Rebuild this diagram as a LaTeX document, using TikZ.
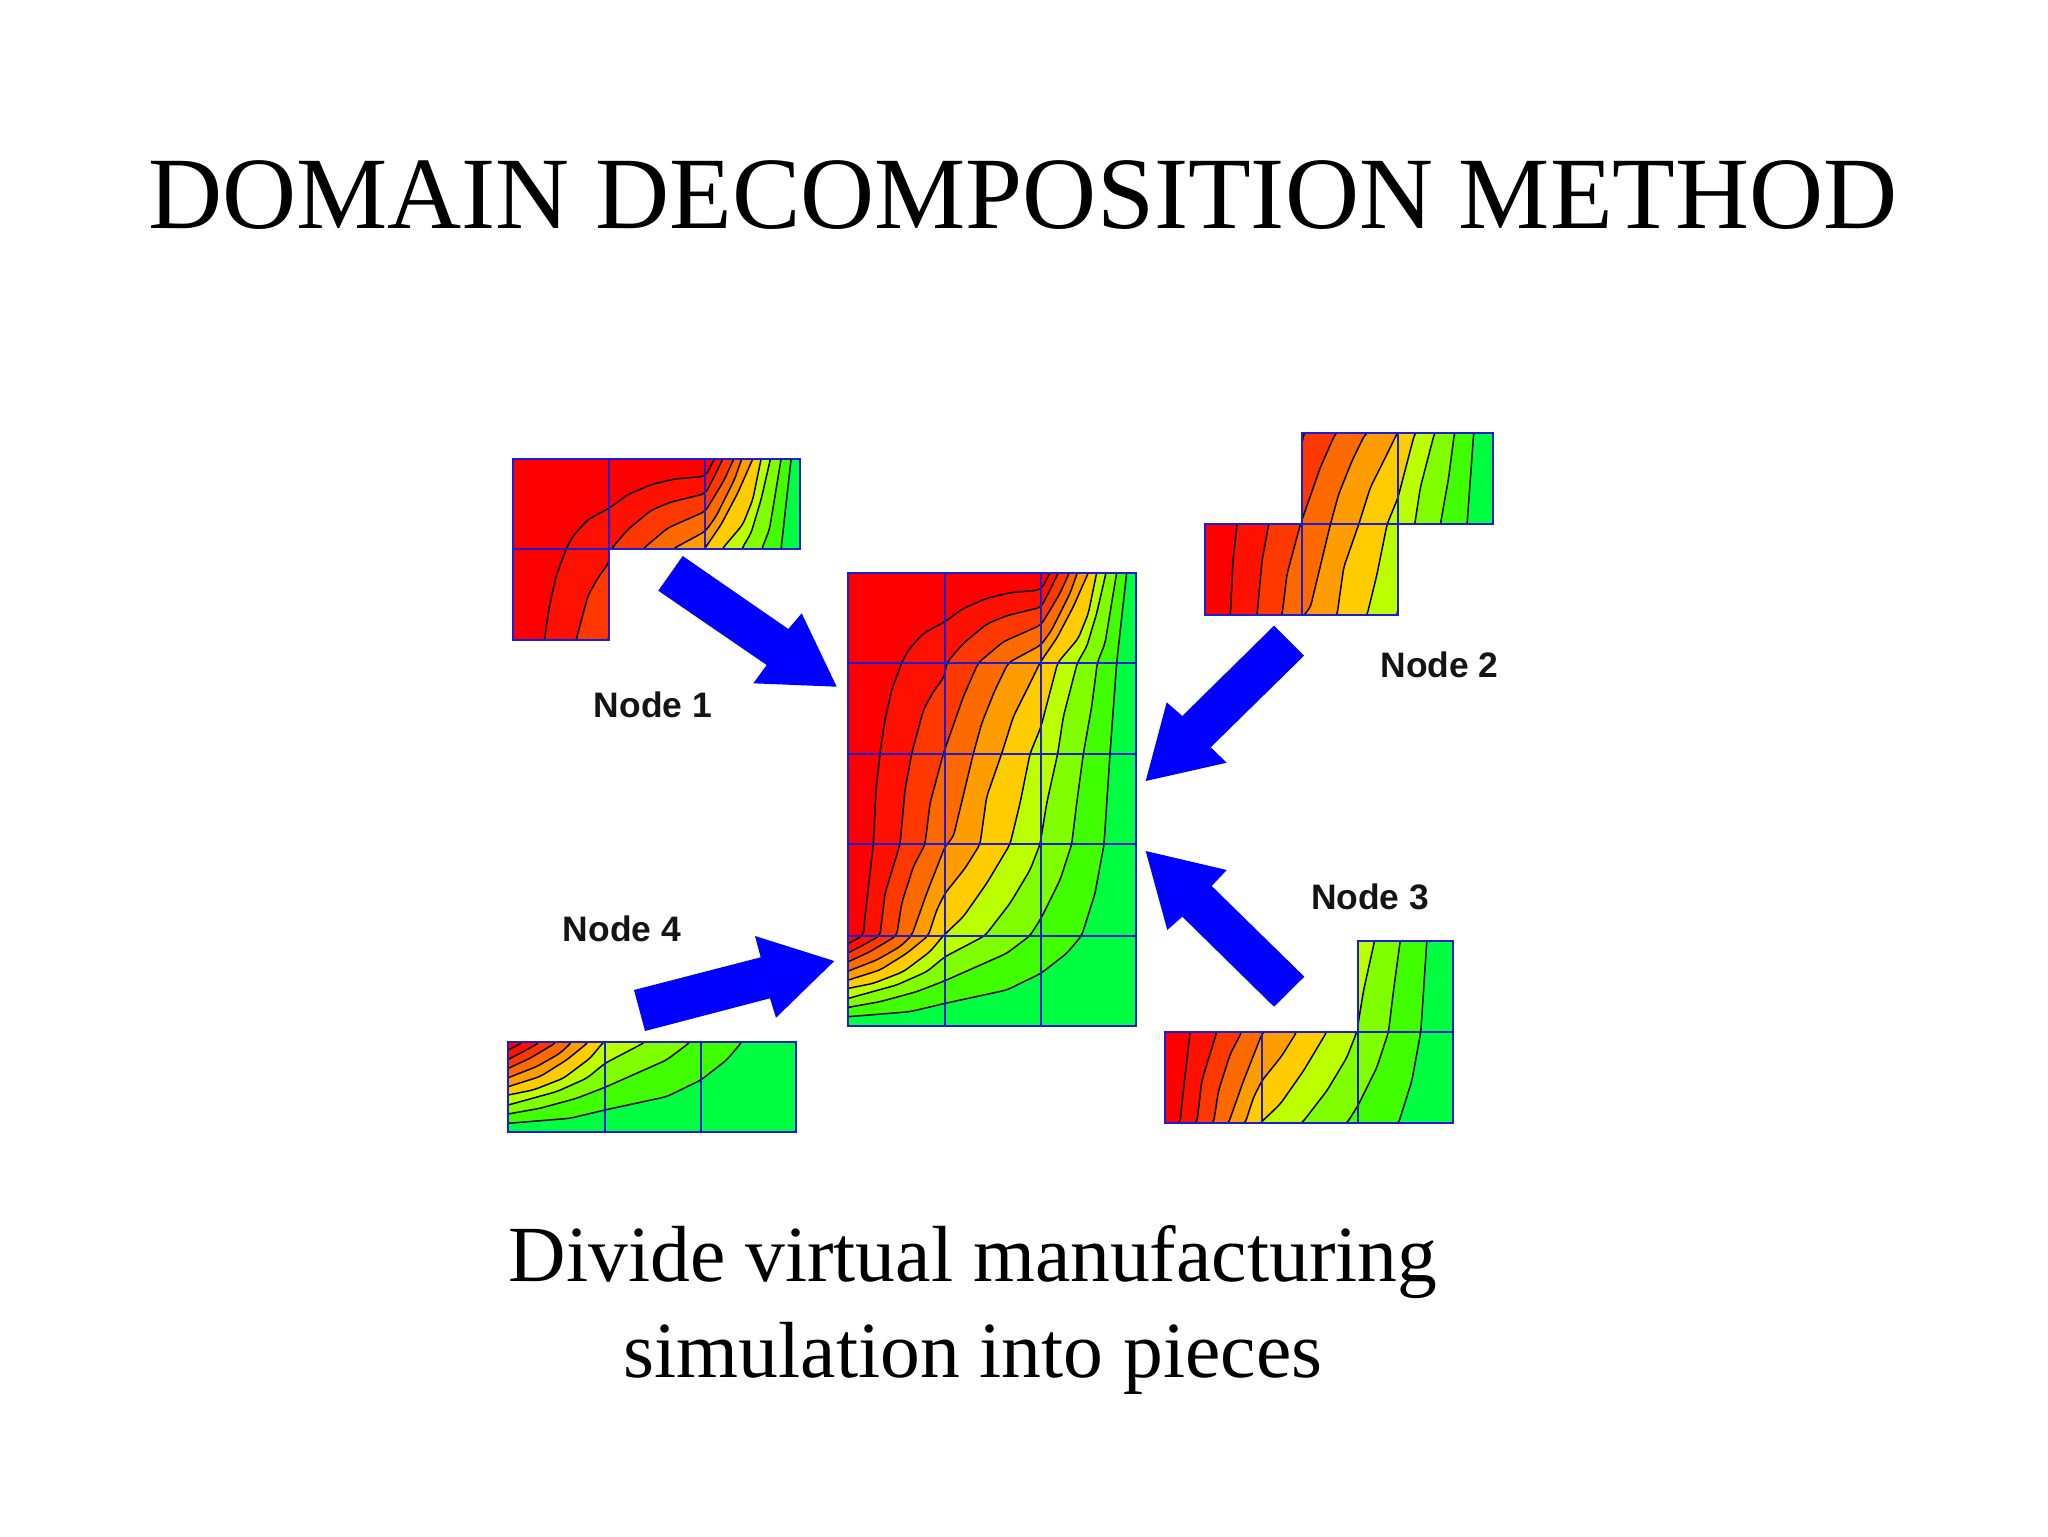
\documentclass[tikz,border=0pt]{standalone}
\usepackage{fontspec}
\setmainfont{Liberation Serif}
\newfontfamily\labelfont{Liberation Sans}
\definecolor{bandA}{HTML}{FF0000}
\definecolor{bandB}{HTML}{FF1000}
\definecolor{bandC}{HTML}{FF3800}
\definecolor{bandD}{HTML}{FF6A00}
\definecolor{bandE}{HTML}{FF9C00}
\definecolor{bandF}{HTML}{FFCC00}
\definecolor{bandG}{HTML}{BBFF00}
\definecolor{bandH}{HTML}{7FFF00}
\definecolor{bandI}{HTML}{40FF00}
\definecolor{bandJ}{HTML}{00FF40}
\definecolor{gridblue}{HTML}{1C1CD8}
\tikzset{
  titletext/.style={font=\fontsize{51.3pt}{60pt}\selectfont, anchor=base, inner sep=0pt},
  subtext/.style={font=\fontsize{39.8pt}{46pt}\selectfont, anchor=base, inner sep=0pt},
  nodelabel/.style={font=\labelfont\bfseries\fontsize{17.7pt}{20pt}\selectfont, inner sep=0pt, text=black!92},
  blockarrow/.style={fill=blue, draw=none},
  isoline/.style={draw=black, line width=0.75pt, line join=round, rounded corners=2.5pt},
  bandfill/.style={fill=#1, rounded corners=2.5pt},
  gridline/.style={draw=gridblue, line width=1pt, line join=miter},
}
% iso-lines, in the frame of the central panel (3 units = 1 pixel)
\def\cA{(55,1180) -- (100,1157) -- (105,1100) -- (130,883) -- (138,720) -- (150,611) -- (163,520) -- (185,420) -- (215,338) -- (235,300) -- (280,250) -- (345,215) -- (400,175) -- (470,145) -- (540,128) -- (633,120) -- (660,68)}
\def\cB{(55,1208) -- (100,1185) -- (150,1157) -- (165,1030) -- (210,883) -- (225,720) -- (245,611) -- (280,480) -- (310,425) -- (343,380) -- (350,338) -- (400,280) -- (470,222) -- (530,197) -- (633,172) -- (660,120) -- (685,68)}
\def\cC{(55,1235) -- (120,1205) -- (200,1157) -- (215,1060) -- (250,950) -- (285,883) -- (300,760) -- (340,611) -- (400,440) -- (445,338) -- (520,275) -- (633,225) -- (690,130) -- (718,68)}
\def\cD{(55,1263) -- (140,1230) -- (210,1190) -- (245,1157) -- (290,1030) -- (345,890) -- (370,860) -- (430,611) -- (455,520) -- (495,420) -- (535,338) -- (633,285) -- (665,240) -- (720,130) -- (742,68)}
\def\cE{(55,1290) -- (150,1260) -- (230,1210) -- (295,1157) -- (320,1080) -- (345,1030) -- (405,955) -- (450,883) -- (470,740) -- (515,611) -- (550,500) -- (600,400) -- (630,338) -- (680,265) -- (730,170) -- (775,68)}
\def\cF{(55,1315) -- (130,1300) -- (220,1265) -- (300,1205) -- (340,1157) -- (400,1100) -- (470,1000) -- (540,883) -- (570,760) -- (600,611) -- (633,530) -- (683,338) -- (745,265) -- (775,190) -- (800,68)}
\def\cG{(55,1345) -- (200,1305) -- (290,1265) -- (345,1220) -- (465,1157) -- (540,1060) -- (600,960) -- (630,883) -- (650,760) -- (683,611) -- (700,500) -- (742,338) -- (770,290) -- (800,190) -- (828,68)}
\def\cH{(55,1372) -- (150,1355) -- (260,1325) -- (345,1292) -- (530,1210) -- (600,1157) -- (633,1105) -- (690,990) -- (725,883) -- (740,760) -- (760,611) -- (785,470) -- (802,338) -- (825,280) -- (860,68)}
\def\cI{(55,1400) -- (240,1385) -- (345,1360) -- (530,1320) -- (633,1270) -- (710,1210) -- (755,1157) -- (795,1030) -- (822,883) -- (840,611) -- (860,338) -- (890,68)}
\newcommand{\fieldbody}{%
  \fill[bandJ] (55,68) rectangle (917,1427);
  \path[bandfill=bandI] \cI -- (-60,-60) -- cycle;
  \path[bandfill=bandH] \cH -- (-60,-60) -- cycle;
  \path[bandfill=bandG] \cG -- (-60,-60) -- cycle;
  \path[bandfill=bandF] \cF -- (-60,-60) -- cycle;
  \path[bandfill=bandE] \cE -- (-60,-60) -- cycle;
  \path[bandfill=bandD] \cD -- (-60,-60) -- cycle;
  \path[bandfill=bandC] \cC -- (-60,-60) -- cycle;
  \path[bandfill=bandB] \cB -- (-60,-60) -- cycle;
  \path[bandfill=bandA] \cA -- (-60,-60) -- cycle;
  \path[isoline] \cA; \path[isoline] \cB; \path[isoline] \cC;
  \path[isoline] \cD; \path[isoline] \cE; \path[isoline] \cF;
  \path[isoline] \cG; \path[isoline] \cH; \path[isoline] \cI;
}
% #1 dx, #2 dy (pixels), #3 outline, #4 inner grid lines
\newcommand{\panel}[4]{%
  \begin{scope}[shift={(830+#1,550+#2)}, x=0.16667pt, y=-0.16667pt]
    \begin{scope}
      \clip #3 -- cycle;
      \fieldbody
    \end{scope}
    \path[gridline] #4;
    \path[gridline] #3 -- cycle;
  \end{scope}
}
\begin{document}
\begin{tikzpicture}[x=0.5pt, y=-0.5pt]
  \useasboundingbox (0,0) rectangle (2048,1536);
  \fill[white] (0,0) rectangle (2048,1536);

  \node[titletext] (title) at (1023,228) {DOMAIN DECOMPOSITION METHOD};

  % centre
  \panel{0}{0}{(55,68) -- (917,68) -- (917,1427) -- (55,1427)}
    {(345,68) -- (345,1427) (633,68) -- (633,1427) (55,338) -- (917,338) (55,611) -- (917,611) (55,883) -- (917,883) (55,1157) -- (917,1157)}
  % node 1
  \panel{-335.6}{-113.7}{(55,68) -- (917,68) -- (917,338) -- (345,338) -- (345,611) -- (55,611)}
    {(345,68) -- (345,338) (633,68) -- (633,338) (55,338) -- (345,338)}
  % node 2
  \panel{357}{-229.2}{(345,338) -- (917,338) -- (917,611) -- (633,611) -- (633,883) -- (55,883) -- (55,611) -- (345,611)}
    {(633,338) -- (633,611) (345,611) -- (633,611) (345,611) -- (345,883)}
  % node 3
  \panel{316.8}{187.5}{(633,611) -- (917,611) -- (917,1157) -- (55,1157) -- (55,883) -- (633,883)}
    {(633,883) -- (917,883) (633,883) -- (633,1157) (345,883) -- (345,1157)}
  % node 4
  \panel{-340}{106.6}{(55,1157) -- (917,1157) -- (917,1427) -- (55,1427)}
    {(345,1157) -- (345,1427) (633,1157) -- (633,1427)}

  % arrows
  \fill[blockarrow] (682.7,556) -- (658.3,590.7) -- (766.7,665) -- (753.3,683.3) -- (836.7,686.7) -- (801.7,613.3) -- (788.3,629) -- cycle;
  \fill[blockarrow] (1274,625.7) -- (1304,655.7) -- (1210.7,747.3) -- (1226.7,762.7) -- (1145.7,781) -- (1166.7,702.3) -- (1182.3,716) -- cycle;
  \fill[blockarrow] (1304.3,976.7) -- (1274,1006.7) -- (1182.3,916.7) -- (1167.3,930) -- (1145.7,851) -- (1226.7,870) -- (1211.7,886) -- cycle;
  \fill[blockarrow] (634,990) -- (645,1031) -- (770,998.3) -- (776,1017.7) -- (834.3,961) -- (755,936) -- (760.7,957.3) -- cycle;

  \node[nodelabel] (n1) at (653,705) {Node 1};
  \node[nodelabel] (n2) at (1439.5,665) {Node 2};
  \node[nodelabel] (n3) at (1370,897) {Node 3};
  \node[nodelabel] (n4) at (622,929) {Node 4};

  \node[subtext] (s1) at (973,1281.5) {Divide virtual manufacturing};
  \node[subtext] (s2) at (973,1377) {simulation into pieces};
\end{tikzpicture}
\end{document}
